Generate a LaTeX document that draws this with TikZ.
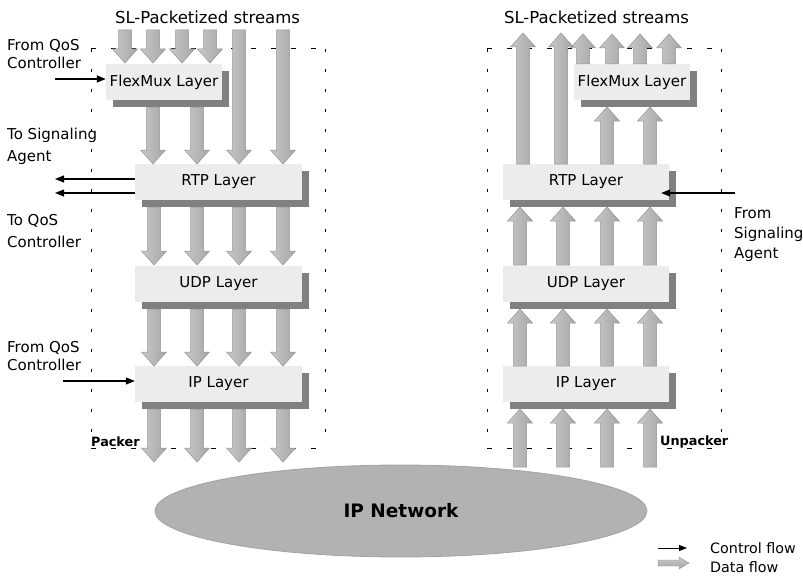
\documentclass[tikz,border=0pt]{standalone}
\usepackage{fontspec}
\setmainfont{DejaVu Sans}
\usetikzlibrary{arrows.meta,shadows,shapes.geometric}

\definecolor{layerfill}{HTML}{ECECEC}
\definecolor{layershadow}{HTML}{808080}
\definecolor{netfill}{HTML}{B2B2B2}
\definecolor{netedge}{HTML}{A2A2A2}
\definecolor{flowlight}{HTML}{C8C8C8}
\definecolor{flowdark}{HTML}{A6A6A6}
\definecolor{flowedge}{HTML}{959595}

% block arrow for data flow going down: x, tail y, tip y
\newcommand\dnflow[3]{%
  \shade[flowarrow] (#1-6.5,#2) -- (#1+6.5,#2) -- (#1+6.5,#3-14) -- (#1+12.5,#3-14)
    -- (#1,#3) -- (#1-12.5,#3-14) -- (#1-6.5,#3-14) -- cycle;}
% block arrow for data flow going up: x, tail y, tip y
\newcommand\upflow[3]{%
  \shade[flowarrow] (#1-6.5,#2) -- (#1+6.5,#2) -- (#1+6.5,#3+14) -- (#1+12.5,#3+14)
    -- (#1,#3) -- (#1-12.5,#3+14) -- (#1-6.5,#3+14) -- cycle;}

\begin{document}
\begin{tikzpicture}[x=1pt,y=-1pt,
  layer/.style={rectangle, fill=layerfill, inner sep=0pt, minimum height=36pt,
    font=\fontsize{15}{18}\selectfont,
    general shadow={fill=layershadow, shadow xshift=7pt, shadow yshift=-7pt}},
  lbl/.style={inner sep=0pt, align=left, font=\fontsize{15}{18.5}\selectfont},
  title/.style={inner sep=0pt, font=\fontsize{16.5}{20}\selectfont},
  boxname/.style={inner sep=0pt, font=\bfseries\fontsize{12.8}{15}\selectfont},
  ctrl/.style={-{Triangle[length=9pt,width=7pt]}, line width=1.1pt},
  flowarrow/.style={left color=flowlight, right color=flowdark, draw=flowedge, line width=0.5pt},
  hdash/.style={line width=1pt, dash pattern=on 5pt off 15pt},
  vdash/.style={line width=1pt, dash pattern=on 3pt off 17pt},
]
\useasboundingbox (0,0) rectangle (803,578);

% packer / unpacker frames
\draw[hdash] (91,49) -- (325,49);
\draw[hdash] (91,448) -- (325,448);
\draw[vdash] (91,49) -- (91,448);
\draw[vdash] (325,49) -- (325,448);
\draw[hdash] (487,49) -- (721,49);
\draw[hdash] (487,448) -- (721,448);
\draw[vdash] (487,49) -- (487,448);
\draw[vdash] (721,49) -- (721,448);

% titles
\node[title] (ltitle) at (207.5,17) {SL-Packetized streams};
\node[title] (rtitle) at (596.5,17) {SL-Packetized streams};

% sender protocol stack
\node[layer, minimum width=116pt] (lflex) at (164,82) {FlexMux Layer};
\node[layer, minimum width=167pt] (lrtp) at (218.5,182) {RTP Layer};
\node[layer, minimum width=167pt] (ludp) at (218.5,283.5) {UDP Layer};
\node[layer, minimum width=167pt] (lip) at (218.5,384) {IP Layer};

% receiver protocol stack
\node[layer, minimum width=116pt] (rflex) at (632,82) {FlexMux Layer};
\node[layer, minimum width=166pt] (rrtp) at (586,182) {RTP Layer};
\node[layer, minimum width=166pt] (rudp) at (586,283.5) {UDP Layer};
\node[layer, minimum width=166pt] (rip) at (586,384) {IP Layer};

% data flow, sender side
\foreach \x in {125,153,182,210} {\dnflow{\x}{30}{63}}
\foreach \x in {239,283} {\dnflow{\x}{30}{164}}
\foreach \x in {153,197} {\dnflow{\x}{107}{164}}
\foreach \x in {154,197,239,283} {
  \dnflow{\x}{207}{265}
  \dnflow{\x}{309}{366}
  \dnflow{\x}{409}{462}
}

% data flow, receiver side
\foreach \x in {583,612,640,669} {\upflow{\x}{64}{34}}
\foreach \x in {523,561} {\upflow{\x}{164}{33}}
\foreach \x in {607,650} {\upflow{\x}{164}{107}}
\foreach \x in {520,563,607,650} {
  \upflow{\x}{265}{207}
  \upflow{\x}{366}{309}
  \upflow{\x}{467}{409}
}

% frame names
\node[boxname, anchor=west] (packer) at (91,442) {Packer};
\node[boxname, anchor=west] (unpacker) at (660,442) {Unpacker};

% network
\node[ellipse, fill=netfill, draw=netedge, line width=0.8pt, minimum width=492pt,
  minimum height=92pt, inner sep=0pt, font=\bfseries\fontsize{18.5}{22}\selectfont]
  (net) at (401,511) {IP Network};

% control flow, sender side
\node[lbl, anchor=west] (qosin1) at (7,54) {From QoS\\Controller};
\coordinate (qosin1e) at (55,79);
\draw[ctrl] (qosin1e) -- (qosin1e -| lflex.west);

\node[lbl, anchor=west] (sigout) at (7,146) {To Signaling\\[3.5pt]Agent};
\coordinate (sigoute) at (55,179);
\draw[ctrl] (sigoute -| lrtp.west) -- (sigoute);

\node[lbl, anchor=west] (qosout) at (7,231) {To QoS\\[3.5pt]Controller};
\coordinate (qosoute) at (55,193);
\draw[ctrl] (qosoute -| lrtp.west) -- (qosoute);

\node[lbl, anchor=west] (qosin2) at (7,356) {From QoS\\Controller};
\coordinate (qosin2e) at (63,381);
\draw[ctrl] (qosin2e) -- (qosin2e -| lip.west);

% control flow, receiver side
\node[lbl, anchor=west] (sigin) at (734,235) {From\\[1.5pt]Signaling\\[1.5pt]Agent};
\coordinate (sigine) at (735,193);
\draw[ctrl, shorten >=-8pt] (sigine) -- (sigine -| rrtp.east);

% legend
\coordinate (lgc1) at (658,548);
\coordinate (lgc2) at (687,548);
\draw[ctrl, {-Triangle[length=8pt,width=6pt]}, line width=1pt] (lgc1) -- (lgc2);
\node[lbl, anchor=west, font=\fontsize{14.3}{17}\selectfont] (lgctext) at (710,548) {Control flow};
\shade[top color=flowlight, bottom color=flowdark, draw=flowedge, line width=0.4pt]
  (658,560) -- (679,560) -- (679,557) -- (689,563) -- (679,569) -- (679,566) -- (658,566) -- cycle;
\node[lbl, anchor=west, font=\fontsize{14.3}{17}\selectfont] (lgdtext) at (710,567) {Data flow};
\end{tikzpicture}
\end{document}
